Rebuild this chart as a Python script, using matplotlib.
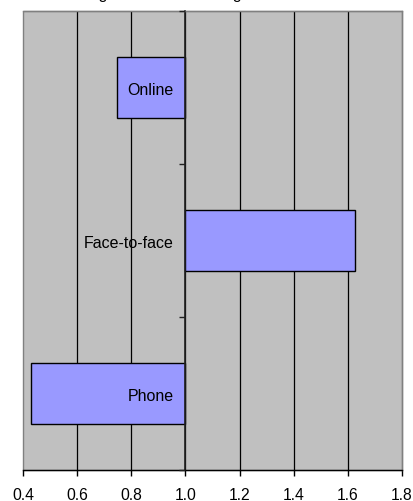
import matplotlib
matplotlib.use("Agg")
import matplotlib.pyplot as plt
from matplotlib.ticker import FixedLocator

plt.rcParams['font.family'] = ['Liberation Sans', 'DejaVu Sans']

# data (bars start at the reference value 1.0)
categories = ["Phone", "Face-to-face", "Online"]
values = [0.43, 1.628, 0.745]
baseline = 1.0
x_ticks = [0.4, 0.6, 0.8, 1.0, 1.2, 1.4, 1.6, 1.8]
x_labels = ["0.4", "0.6", "0.8", "1.0", "1.2", "1.4", "1.6", "1.8"]
title = "Agreement on average for each mode"

fig = plt.figure(figsize=(4.14, 5.02), dpi=100)
ax = fig.add_axes([0.0563, 0.0618, 0.9140, 0.9137])

ax.set_facecolor('#C0C0C0')
ax.patch.set_edgecolor('#808080')
ax.patch.set_linewidth(1.0)

pos = list(range(len(categories)))
widths = [v - baseline for v in values]
ax.barh(pos, widths, left=baseline, height=0.4, color='#9999FF',
        edgecolor='black', linewidth=1.0, zorder=1)

ax.set_xlim(x_ticks[0], x_ticks[-1])
ax.set_ylim(-0.5, len(categories) - 0.5)

# inner vertical gridlines behind the bars
ax.set_axisbelow(True)
ax.vlines(x_ticks[1:-1], -0.5, len(categories) - 0.5, colors='black',
          linewidth=0.9, zorder=0.8)

ax.set_xticks(x_ticks)
ax.set_xticklabels(x_labels, fontsize=11.3)
ax.tick_params(axis='x', direction='out', length=4, width=1, pad=8.5, color='black')

# category axis crossing at 1.0
ax.spines['left'].set_position(('data', baseline))
ax.spines['left'].set_color('#202020')
ax.spines['left'].set_linewidth(1.2)
ax.spines['left'].set_zorder(2.5)
ax.spines['bottom'].set_color('black')
ax.spines['bottom'].set_linewidth(1.0)
for s in ['top', 'right']:
    ax.spines[s].set_color('#808080')
    ax.spines[s].set_linewidth(1.0)

ax.set_yticks(pos)
ax.set_yticklabels(categories, fontsize=11.5)
ax.tick_params(axis='y', which='major', length=0, pad=8.3)
ax.yaxis.set_minor_locator(FixedLocator([p - 0.5 for p in pos] + [pos[-1] + 0.5]))
ax.tick_params(axis='y', which='minor', direction='out', length=4, width=1, color='#202020')
ax.yaxis.set_zorder(3)

# title sits almost entirely above the canvas, as in the source
fig.text(88 / 414, 1.0 + 1.5 / 502, title, ha='left', va='baseline', fontsize=11.5)

fig.savefig('out.png', dpi=100)
